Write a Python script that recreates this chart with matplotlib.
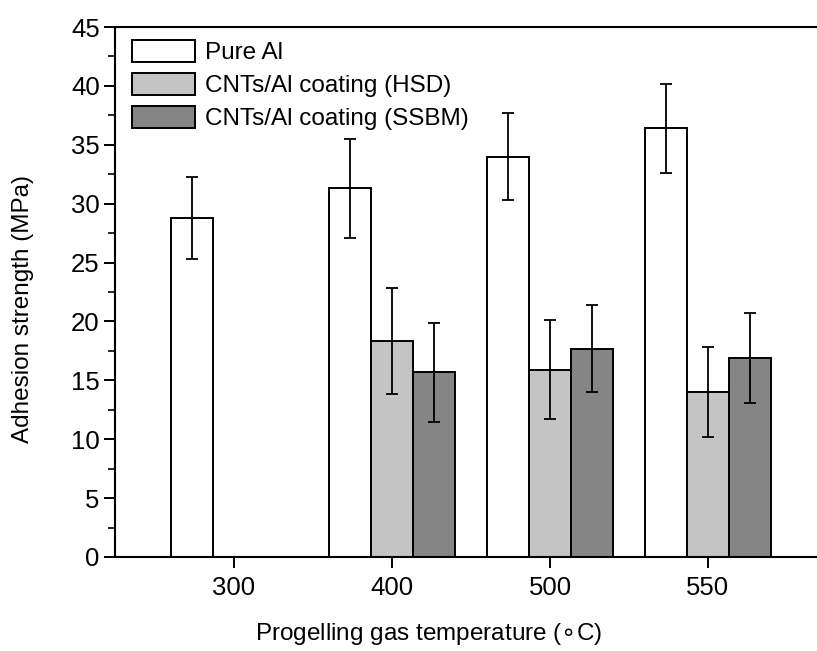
import numpy as np
import matplotlib
matplotlib.use("Agg")
import matplotlib.pyplot as plt

plt.rcParams['font.family'] = ['Liberation Sans', 'DejaVu Sans']

temps = ["300", "400", "500", "550"]
pure_al = [28.8, 31.3, 34.0, 36.4]
pure_al_err = [3.5, 4.2, 3.7, 3.8]
hsd = [np.nan, 18.3, 15.9, 14.0]
hsd_err = [np.nan, 4.5, 4.2, 3.8]
ssbm = [np.nan, 15.7, 17.7, 16.9]
ssbm_err = [np.nan, 4.2, 3.7, 3.8]

x = np.arange(len(temps))
ancho = 0.266  # ancho de las barras

fig = plt.figure(figsize=(8.17, 6.51), dpi=100)
ax = fig.add_axes([0.1408, 0.1444, 0.8592, 0.8141])

err_kw = dict(ecolor='black', elinewidth=1.3, capsize=4, capthick=1.3)
series = [
    (pure_al, pure_al_err, -ancho, 'white', 'Pure Al'),
    (hsd, hsd_err, 0, '#c4c4c4', 'CNTs/Al coating (HSD)'),
    (ssbm, ssbm_err, ancho, '#858585', 'CNTs/Al coating (SSBM)'),
]
for vals, errs, off, color, label in series:
    ax.bar(x + off, vals, width=ancho, color=color, edgecolor='black',
           linewidth=1.4, label=label, zorder=2)
    ax.errorbar(x + off, vals, yerr=errs, fmt='none', zorder=3, **err_kw)

ax.set_xlim(-0.753, 3.69)
ax.set_ylim(0, 45)
ax.set_xticks(x)
ax.set_xticklabels(temps)
ax.set_yticks(np.arange(0, 46, 5))
ax.set_yticks(np.arange(2.5, 45, 5), minor=True)

ax.tick_params(axis='both', direction='out', labelsize=18.5, width=1.4)
ax.tick_params(axis='y', which='major', length=8, pad=3)
ax.tick_params(axis='y', which='minor', length=5, width=1.2)
ax.tick_params(axis='x', length=8, pad=6)

for s in ['left', 'bottom', 'top']:
    ax.spines[s].set_linewidth(1.5)
ax.spines['right'].set_visible(False)

ax.set_ylabel('Adhesion strength (MPa)', fontsize=17.5)
ax.set_xlabel(r'Progelling gas temperature ($\circ$C)', fontsize=17.5)
ax.xaxis.set_label_coords(0.446, -0.12)
ax.yaxis.set_label_coords(-0.115, 0.468)

ax.legend(loc='upper left', bbox_to_anchor=(0.0, 1.008), frameon=False,
          fontsize=17.5, handlelength=2.6, handleheight=1.0,
          handletextpad=0.4, labelspacing=0.37, borderaxespad=0.3)

plt.savefig('out.png', dpi=100)
